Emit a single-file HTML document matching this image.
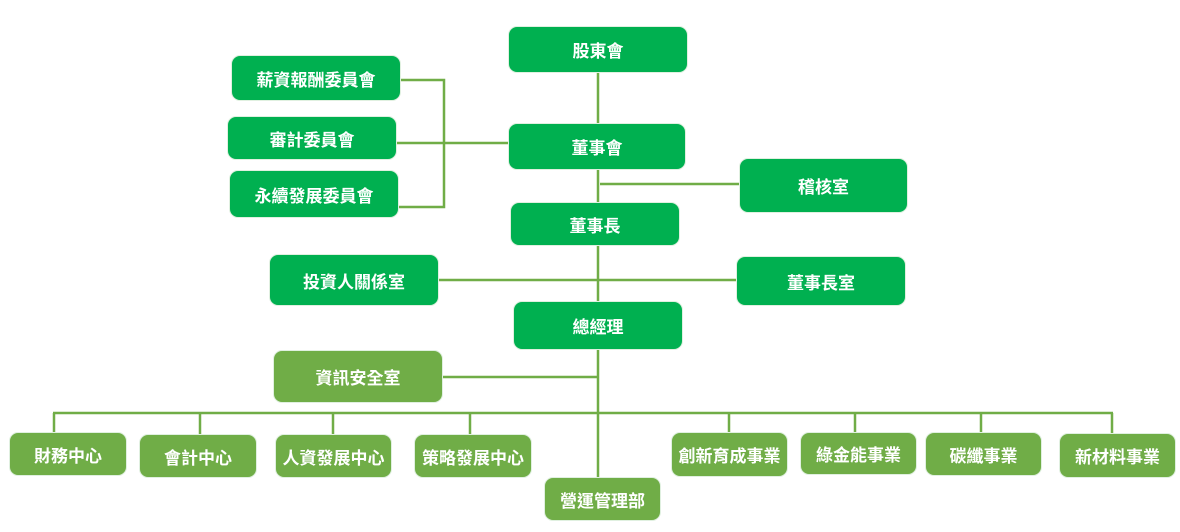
<!DOCTYPE html>
<html><head><meta charset="utf-8"><style>
body{margin:0;width:1180px;height:532px;background:#fff;position:relative;overflow:hidden;font-family:"Liberation Sans","Noto Sans CJK TC",sans-serif}
.b{position:absolute;border-radius:9px;color:#fff;font-weight:bold;font-size:17px;display:flex;align-items:center;justify-content:center;box-sizing:border-box;border:1px solid #e0f0e0}
.d{background:#00b050}.l{background:#70ad47}
svg{position:absolute;left:0;top:0}
</style></head><body>
<svg width="1180" height="532"><g stroke="#70ad47" stroke-width="2.5" fill="none">
<line x1="598" y1="73" x2="598" y2="477"/>
<polyline points="401,80 444,80 444,207 399,207"/>
<line x1="397" y1="143" x2="508" y2="143"/>
<line x1="600" y1="184" x2="739" y2="184"/>
<line x1="439" y1="280" x2="736" y2="280"/>
<line x1="443" y1="377" x2="598" y2="377"/>
<line x1="53" y1="413" x2="1113" y2="413"/>
<line x1="54" y1="413" x2="54" y2="432"/><line x1="200" y1="413" x2="200" y2="434"/>
<line x1="333" y1="413" x2="333" y2="434"/><line x1="470" y1="413" x2="470" y2="434"/>
<line x1="729" y1="413" x2="729" y2="432"/><line x1="855" y1="413" x2="855" y2="432"/>
<line x1="981" y1="413" x2="981" y2="432"/><line x1="1112" y1="413" x2="1112" y2="433"/>
</g></svg>
<div class="b d" style="left:508px;top:26px;width:180px;height:47px">股東會</div>
<div class="b d" style="left:231px;top:55px;width:170px;height:46px">薪資報酬委員會</div>
<div class="b d" style="left:227px;top:116px;width:170px;height:44px">審計委員會</div>
<div class="b d" style="left:229px;top:170px;width:170px;height:48px">永續發展委員會</div>
<div class="b d" style="left:508px;top:123px;width:178px;height:47px">董事會</div>
<div class="b d" style="left:739px;top:158px;width:169px;height:55px">稽核室</div>
<div class="b d" style="left:510px;top:202px;width:170px;height:44px">董事長</div>
<div class="b d" style="left:269px;top:254px;width:170px;height:52px">投資人關係室</div>
<div class="b d" style="left:736px;top:256px;width:170px;height:50px">董事長室</div>
<div class="b d" style="left:513px;top:301px;width:170px;height:49px">總經理</div>
<div class="b l" style="left:273px;top:350px;width:170px;height:53px">資訊安全室</div>
<div class="b l" style="left:9px;top:432px;width:118px;height:44px">財務中心</div>
<div class="b l" style="left:139px;top:434px;width:118px;height:44px">會計中心</div>
<div class="b l" style="left:275px;top:434px;width:117px;height:44px">人資發展中心</div>
<div class="b l" style="left:414px;top:434px;width:118px;height:44px">策略發展中心</div>
<div class="b l" style="left:544px;top:477px;width:117px;height:44px">營運管理部</div>
<div class="b l" style="left:671px;top:432px;width:117px;height:45px">創新育成事業</div>
<div class="b l" style="left:800px;top:432px;width:117px;height:43px">綠金能事業</div>
<div class="b l" style="left:925px;top:432px;width:117px;height:44px">碳纖事業</div>
<div class="b l" style="left:1059px;top:433px;width:117px;height:45px">新材料事業</div>
</body></html>
